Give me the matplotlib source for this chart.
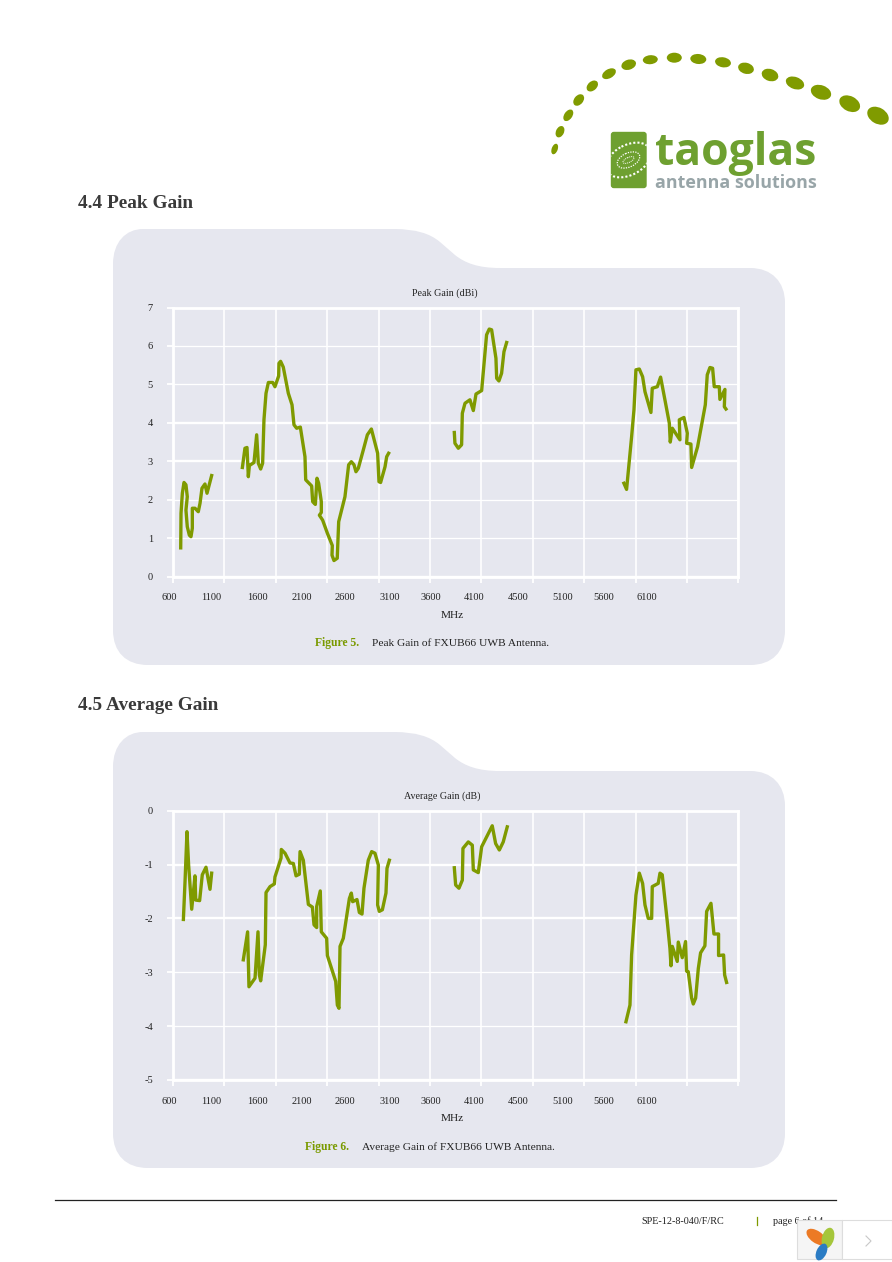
import matplotlib
matplotlib.use("Agg")
import matplotlib.pyplot as plt
from matplotlib.patches import Ellipse, FancyBboxPatch, PathPatch, Rectangle
from matplotlib.path import Path

W, H = 892, 1262
LINE = "#7f9a00"
PANEL = "#e6e7ef"
SERIF = "Liberation Serif"

# frequency axis
grid_mhz = [600, 1100, 1600, 2100, 2600, 3100, 3600, 4100, 4600, 5100, 5600, 6100]
tick_labels = ["600", "1100", "1600", "2100", "2600", "3100", "3600", "4100", "4500", "5100", "5600", "6100"]

# peak gain, one list per band
peak_mhz_1 = [675, 678, 691, 707, 726, 739, 726, 739, 759, 775, 788, 788, 814, 846, 863, 882, 911, 931, 976]
peak_db_1 = [0.75, 1.65, 2.17, 2.45, 2.39, 2.08, 1.73, 1.30, 1.08, 1.04, 1.26, 1.78, 1.78, 1.69, 1.91, 2.30, 2.41, 2.17, 2.63]
peak_mhz_2 = [1275, 1300, 1320, 1333, 1343, 1388, 1414, 1430, 1453, 1472, 1485, 1505, 1528, 1570, 1592, 1628,
              1631, 1647, 1673, 1722, 1758, 1777, 1803, 1839, 1884, 1891, 1949, 1959, 1985, 2001, 2017, 2043,
              2043, 2024, 2056, 2102, 2150, 2147, 2166, 2198, 2212, 2273, 2309, 2335, 2361, 2380, 2403, 2452,
              2491, 2530, 2591, 2604, 2620, 2663, 2679, 2698]
peak_db_2 = [2.84, 3.34, 3.36, 2.60, 2.89, 2.97, 3.69, 2.95, 2.80, 2.95, 4.08, 4.77, 5.05, 5.05, 4.94, 5.22,
             5.55, 5.60, 5.45, 4.77, 4.47, 3.95, 3.86, 3.89, 3.12, 2.52, 2.36, 1.95, 1.88, 2.56, 2.43, 1.95,
             1.67, 1.60, 1.47, 1.13, 0.81, 0.56, 0.42, 0.48, 1.43, 2.08, 2.91, 2.99, 2.91, 2.73, 2.82, 3.30,
             3.69, 3.84, 3.21, 2.47, 2.45, 2.86, 3.12, 3.21]
peak_mhz_3 = [3337, 3343, 3376, 3408, 3415, 3441, 3489, 3522, 3548, 3603, 3651, 3677, 3700, 3742, 3749, 3771, 3797, 3820, 3846]
peak_db_3 = [3.75, 3.47, 3.34, 3.43, 4.25, 4.51, 4.60, 4.32, 4.75, 4.84, 6.29, 6.44, 6.42, 5.68, 5.16, 5.09, 5.29, 5.85, 6.09]
peak_mhz_4 = [4987, 5013, 5062, 5085, 5104, 5137, 5169, 5192, 5250, 5263, 5312, 5344, 5386, 5429, 5438, 5458, 5532,
              5526, 5571, 5604, 5597, 5639, 5646, 5704, 5779, 5798, 5824, 5850, 5866, 5915, 5921, 5970, 5964, 5980]
peak_db_4 = [2.43, 2.27, 3.64, 4.34, 5.38, 5.40, 5.20, 4.81, 4.27, 4.90, 4.94, 5.19, 4.60, 3.99, 3.50, 3.86, 3.56,
             4.08, 4.14, 3.73, 3.47, 3.45, 2.84, 3.38, 4.47, 5.25, 5.44, 5.42, 4.94, 4.94, 4.61, 4.87, 4.42, 4.36]

# average gain, one list per band
avg_mhz_1 = [701, 717, 736, 752, 782, 814, 821, 859, 885, 921, 960, 976]
avg_db_1 = [-2.02, -1.32, -0.39, -1.01, -1.83, -1.21, -1.66, -1.67, -1.19, -1.05, -1.46, -1.16]
avg_mhz_2 = [1284, 1326, 1339, 1398, 1427, 1440, 1453, 1498, 1505, 1544, 1586, 1592, 1651, 1654, 1690, 1738, 1771,
             1797, 1829, 1836, 1868, 1917, 1956, 1972, 1998, 1998, 2033, 2043, 2095, 2102, 2183, 2199, 2215, 2225,
             2257, 2316, 2335, 2348, 2390, 2413, 2439, 2458, 2500, 2533, 2565, 2598, 2591, 2607, 2637, 2672, 2682, 2705]
avg_db_2 = [-2.77, -2.25, -3.27, -3.11, -2.25, -3.05, -3.16, -2.49, -1.52, -1.41, -1.36, -1.23, -0.88, -0.72, -0.79, -0.97, -0.98,
            -1.21, -1.18, -0.76, -0.92, -1.74, -1.79, -2.12, -2.17, -1.78, -1.49, -2.25, -2.37, -2.69, -3.17, -3.61, -3.67, -2.52,
            -2.37, -1.63, -1.53, -1.69, -1.65, -1.89, -1.92, -1.44, -0.92, -0.76, -0.79, -1.01, -1.75, -1.87, -1.84, -1.53, -1.07, -0.92]
avg_mhz_3 = [3337, 3350, 3382, 3415, 3421, 3473, 3512, 3522, 3570, 3603, 3706, 3739, 3775, 3813, 3852]
avg_db_3 = [-1.06, -1.38, -1.44, -1.29, -0.70, -0.58, -0.64, -1.10, -1.15, -0.67, -0.28, -0.61, -0.73, -0.58, -0.30]
avg_mhz_4 = [5007, 5046, 5062, 5104, 5137, 5169, 5192, 5224, 5257, 5263, 5321, 5338, 5360, 5409, 5435, 5445, 5458, 5506,
             5516, 5555, 5587, 5597, 5613, 5646, 5662, 5685, 5711, 5733, 5775, 5792, 5834, 5863, 5908, 5908, 5957, 5967, 5986]
avg_db_4 = [-3.92, -3.61, -2.68, -1.57, -1.16, -1.35, -1.75, -2.00, -2.00, -1.41, -1.35, -1.16, -1.19, -2.06, -2.56, -2.88, -2.52, -2.80,
            -2.44, -2.73, -2.43, -2.98, -2.99, -3.48, -3.59, -3.48, -2.93, -2.64, -2.51, -1.87, -1.72, -2.29, -2.29, -2.69, -2.68, -3.05, -3.19]

peak_bands = [(peak_mhz_1, peak_db_1), (peak_mhz_2, peak_db_2), (peak_mhz_3, peak_db_3), (peak_mhz_4, peak_db_4)]
avg_bands = [(avg_mhz_1, avg_db_1), (avg_mhz_2, avg_db_2), (avg_mhz_3, avg_db_3), (avg_mhz_4, avg_db_4)]

fig = plt.figure(figsize=(W / 100, H / 100), dpi=100, facecolor="white")
# page layer in pixel coordinates, y down
page = fig.add_axes([0, 0, 1, 1])
page.set_xlim(0, W)
page.set_ylim(H, 0)
page.axis("off")


def panel(dy):
    """Rounded card with the notch on its top edge."""
    verts = [
        (143, 229 + dy), (395, 229 + dy),
        (425, 229 + dy), (440, 242 + dy), (455, 255 + dy),
        (465, 263 + dy), (478, 268 + dy), (500, 268 + dy),
        (750, 268 + dy),
        (772, 268 + dy), (785, 282 + dy), (785, 303 + dy),
        (785, 630 + dy),
        (785, 652 + dy), (772, 665 + dy), (750, 665 + dy),
        (148, 665 + dy),
        (126, 665 + dy), (113, 652 + dy), (113, 630 + dy),
        (113, 264 + dy),
        (113, 242 + dy), (126, 229 + dy), (143, 229 + dy),
    ]
    codes = [Path.MOVETO, Path.LINETO,
             Path.CURVE3, Path.CURVE3, Path.LINETO,
             Path.CURVE4, Path.CURVE4, Path.CURVE4,
             Path.LINETO,
             Path.CURVE4, Path.CURVE4, Path.CURVE4,
             Path.LINETO,
             Path.CURVE4, Path.CURVE4, Path.CURVE4,
             Path.LINETO,
             Path.CURVE4, Path.CURVE4, Path.CURVE4,
             Path.LINETO,
             Path.CURVE4, Path.CURVE4, Path.CURVE4]
    page.add_patch(PathPatch(Path(verts, codes), fc=PANEL, ec="none"))


def chart(bands, ylim, top, title, title_x, caption_head, caption, head_x, text_x, dy, thick):
    left, right, bottom = 173, 738.3, top + 269.2
    ax = fig.add_axes([left / W, 1 - bottom / H, (right - left) / W, (bottom - top) / H])
    ax.patch.set_alpha(0)
    for mhz, db in bands:
        ax.plot(mhz, db, color=LINE, lw=2.4, solid_joinstyle="round", zorder=3)
    ax.set_xlim(grid_mhz[0], grid_mhz[-1])
    ax.set_ylim(*ylim)
    ax.set_xticks(grid_mhz)
    ax.set_xticklabels([])
    yvals = list(range(ylim[0], ylim[1] + 1))
    ax.set_yticks(yvals)
    # plain hyphen for the minus, as the source has it
    ax.set_yticklabels([str(v) for v in yvals], family=SERIF, fontsize=7.5, color="#222222")
    ax.grid(True, axis="x", color="white", lw=1.2)
    ax.grid(True, axis="y", color="white", lw=0.9)
    # resampling left some horizontal rules heavier than others
    for v, gl in zip(yvals, ax.get_ygridlines()):
        if v in thick:
            gl.set_linewidth(1.7)
    ax.tick_params(axis="both", color="white", width=1.3, length=4)
    ax.tick_params(axis="y", pad=10.5)
    for s in ax.spines.values():
        s.set_color("white")
        s.set_linewidth(2)
    ax.set_axisbelow(True)
    # the tick labels sit on their own spacing, not under the grid
    for lab, px in zip(tick_labels, label_px):
        page.text(px, top + 290.5, lab, ha="center", va="center", fontsize=7.5, family=SERIF, color="#222222")
    page.text(452, top + 307.5, "MHz", ha="center", va="center", fontsize=8.2, family=SERIF, color="#222222")
    page.text(title_x, top - 14.5, title, ha="center", va="center", fontsize=7.2, family=SERIF, color="#222222")
    page.text(head_x, 643 + dy, caption_head, ha="left", va="center", fontsize=8.4, family=SERIF,
              weight="bold", color="#7a9a00")
    page.text(text_x, 643 + dy, caption, ha="left", va="center", fontsize=8.2, family=SERIF, color="#222222")


label_px = [169, 211, 257.7, 301.7, 345.3, 389.3, 430.7, 474.3, 518.3, 562.3, 603.3, 647.3]

panel(0)
panel(503)
page.text(78, 203.5, "4.4 Peak Gain", fontsize=13.9, family=SERIF, weight="bold", color="#3a3a3a", va="center")
page.text(78, 706, "4.5 Average Gain", fontsize=13.9, family=SERIF, weight="bold", color="#3a3a3a", va="center")

chart(peak_bands, (0, 7), 307.5, "Peak Gain (dBi)", 445, "Figure 5.", "Peak Gain of FXUB66 UWB Antenna.", 315, 372, 0,
      [7, 4, 3, 0])
chart(avg_bands, (-5, 0), 810.7, "Average Gain (dB)", 442, "Figure 6.", "Average Gain of FXUB66 UWB Antenna.", 305, 362, 504,
      [0, -1, -2, -5])

# logo: dotted arc
dots = [(554.7, 149, 6, 11, 70), (560, 131.7, 8, 12, 65), (568.3, 115.3, 8, 13, 55), (578.7, 100, 9, 13, 50),
        (592.3, 86, 9, 13, 42), (609, 73.7, 9, 15, 30), (628.7, 64.7, 10, 15, 18), (650.3, 59.7, 9, 15, 5),
        (674.3, 57.7, 10, 15, 0), (698.3, 59, 10, 16, -5), (723, 62.3, 10, 16, -10), (746, 68.3, 11, 16, -15),
        (770, 75, 12, 17, -18), (795, 83, 12, 19, -20), (821, 92.3, 14, 21, -20), (849.7, 103.7, 15, 22, -27),
        (878, 115.7, 16, 23, -30)]
for cx, cy, h, w, ang in dots:
    page.add_patch(Ellipse((cx, cy), w, h, angle=-ang, fc="#809b00", ec="none"))

badge = FancyBboxPatch((612, 133), 33.5, 54, boxstyle="round,pad=1.2,rounding_size=3", fc="#6ea030", ec="none")
page.add_patch(badge)
for w, h, ang, lw in [(48, 30, -28, 1.5), (24, 14, -25, 0.9), (12, 5, -25, 0.7)]:
    e = Ellipse((628.5, 160), w, h, angle=ang, fc="none", ec="white", lw=lw, ls=(0, (1, 1)))
    page.add_patch(e)
    e.set_clip_path(badge)
page.text(655, 165, "taoglas", fontsize=32, family="Open Sans", weight="bold", color="#6ea030", va="baseline")
page.text(655, 188, "antenna solutions", fontsize=12.9, family="Open Sans", weight="bold", color="#98a5a8", va="baseline")

# footer
page.plot([55, 836], [1199.5, 1199.5], color="#222222", lw=0.9)
page.text(641, 1221, "SPE-12-8-040/F/RC", fontsize=7.3, family=SERIF, color="#222222", va="center")
page.plot([757, 757], [1217, 1225], color=LINE, lw=0.9)
page.text(773, 1221.5, "page 6 of 14", fontsize=7.3, family=SERIF, color="#222222", va="center")

# viewer widget in the corner
page.add_patch(Rectangle((796.5, 1220), 45.5, 39, fc="#f5f5f5", ec="#dddddd", lw=0.8, zorder=5))
page.add_patch(Rectangle((842, 1220), 49.5, 39, fc="white", ec="#dddddd", lw=0.8, zorder=5))
page.add_patch(Ellipse((816.5, 1237), 23, 12, angle=35, fc="#ec7a25", ec="none", zorder=6))
page.add_patch(Ellipse((828, 1238), 12, 21, angle=15, fc="#a5c63b", ec="none", zorder=6))
page.add_patch(Ellipse((821.5, 1252), 10, 18, angle=25, fc="#2b7cc4", ec="none", zorder=6))
page.plot([866, 871, 866], [1236, 1241, 1246], color="#c8c8c8", lw=0.8, zorder=6)

fig.savefig("out.png", dpi=100)
